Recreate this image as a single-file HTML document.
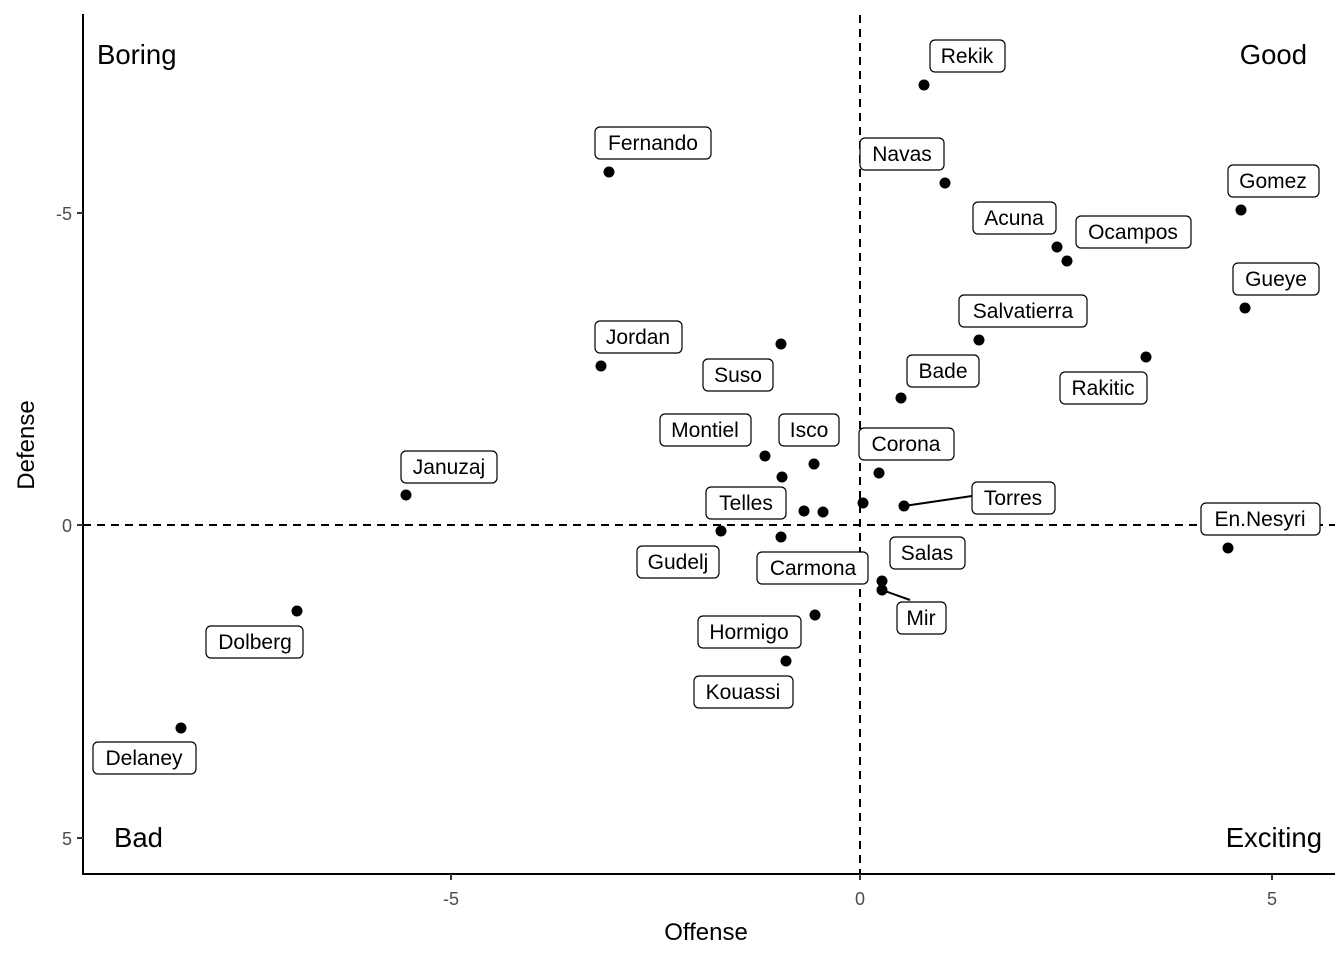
<!DOCTYPE html>
<html><head><meta charset="utf-8"><style>body{margin:0;background:#fff}svg{display:block}</style></head><body>
<svg width="1344" height="960" xmlns="http://www.w3.org/2000/svg" font-family="Liberation Sans, Arial, sans-serif">
<rect width="1344" height="960" fill="#fff"/>
<line x1="860" y1="15" x2="860" y2="874" stroke="#000" stroke-width="2" stroke-dasharray="8,6"/>
<line x1="83" y1="525" x2="1335" y2="525" stroke="#000" stroke-width="2" stroke-dasharray="8,6"/>
<line x1="83" y1="14" x2="83" y2="875" stroke="#000" stroke-width="2"/>
<line x1="82" y1="874" x2="1335" y2="874" stroke="#000" stroke-width="2"/>
<g stroke="#333" stroke-width="2">
<line x1="77" y1="213" x2="83" y2="213"/><line x1="77" y1="525" x2="83" y2="525"/><line x1="77" y1="838" x2="83" y2="838"/>
<line x1="451" y1="874" x2="451" y2="880"/><line x1="860" y1="874" x2="860" y2="880"/><line x1="1272" y1="874" x2="1272" y2="880"/>
</g>
<g fill="#4d4d4d" font-size="18">
<text x="72" y="220" text-anchor="end">-5</text><text x="72" y="532" text-anchor="end">0</text><text x="72" y="845" text-anchor="end">5</text>
<text x="451" y="905" text-anchor="middle">-5</text><text x="860" y="905" text-anchor="middle">0</text><text x="1272" y="905" text-anchor="middle">5</text>
</g>
<text x="706" y="940" font-size="24" text-anchor="middle">Offense</text>
<text transform="translate(34,445) rotate(-90)" font-size="24" text-anchor="middle">Defense</text>
<g font-size="27.5">
<text x="97" y="64">Boring</text><text x="1307" y="64" text-anchor="end">Good</text>
<text x="114" y="847">Bad</text><text x="1322" y="847" text-anchor="end">Exciting</text>
</g>
<g stroke="#000" stroke-width="2"><line x1="904" y1="506" x2="972" y2="496"/><line x1="882" y1="590" x2="910" y2="600"/></g>
<g fill="#000">
<circle cx="924" cy="85" r="5.5"/><circle cx="609" cy="172" r="5.5"/><circle cx="945" cy="183" r="5.5"/><circle cx="1241" cy="210" r="5.5"/>
<circle cx="1057" cy="247" r="5.5"/><circle cx="1067" cy="261" r="5.5"/><circle cx="1245" cy="308" r="5.5"/><circle cx="979" cy="340" r="5.5"/>
<circle cx="601" cy="366" r="5.5"/><circle cx="781" cy="344" r="5.5"/><circle cx="1146" cy="357" r="5.5"/><circle cx="901" cy="398" r="5.5"/>
<circle cx="765" cy="456" r="5.5"/><circle cx="814" cy="464" r="5.5"/><circle cx="782" cy="477" r="5.5"/><circle cx="879" cy="473" r="5.5"/>
<circle cx="863" cy="503" r="5.5"/><circle cx="904" cy="506" r="5.5"/><circle cx="804" cy="511" r="5.5"/><circle cx="823" cy="512" r="5.5"/>
<circle cx="406" cy="495" r="5.5"/><circle cx="721" cy="531" r="5.5"/><circle cx="781" cy="537" r="5.5"/><circle cx="1228" cy="548" r="5.5"/>
<circle cx="882" cy="581" r="5.5"/><circle cx="882" cy="590" r="5.5"/><circle cx="815" cy="615" r="5.5"/><circle cx="786" cy="661" r="5.5"/>
<circle cx="297" cy="611" r="5.5"/><circle cx="181" cy="728" r="5.5"/>
</g>
<g font-size="21" text-anchor="middle">
<g fill="#fff" stroke="#000" stroke-width="1.2">
<rect x="930" y="40" width="75" height="32" rx="5"/>
<rect x="595" y="127" width="116" height="32" rx="5"/>
<rect x="860" y="138" width="84" height="32" rx="5"/>
<rect x="1228" y="165" width="91" height="32" rx="5"/>
<rect x="973" y="202" width="83" height="32" rx="5"/>
<rect x="1076" y="216" width="115" height="32" rx="5"/>
<rect x="1233" y="263" width="86" height="32" rx="5"/>
<rect x="959" y="295" width="128" height="32" rx="5"/>
<rect x="595" y="321" width="87" height="32" rx="5"/>
<rect x="703" y="359" width="70" height="32" rx="5"/>
<rect x="907" y="355" width="72" height="32" rx="5"/>
<rect x="1060" y="372" width="87" height="32" rx="5"/>
<rect x="660" y="414" width="91" height="32" rx="5"/>
<rect x="779" y="414" width="60" height="32" rx="5"/>
<rect x="859" y="428" width="95" height="32" rx="5"/>
<rect x="401" y="451" width="96" height="32" rx="5"/>
<rect x="972" y="482" width="83" height="32" rx="5"/>
<rect x="706" y="487" width="80" height="32" rx="5"/>
<rect x="1201" y="503" width="119" height="32" rx="5"/>
<rect x="637" y="546" width="82" height="32" rx="5"/>
<rect x="890" y="537" width="75" height="32" rx="5"/>
<rect x="757" y="552" width="111" height="32" rx="5"/>
<rect x="897" y="602" width="49" height="32" rx="5"/>
<rect x="698" y="616" width="103" height="32" rx="5"/>
<rect x="206" y="626" width="97" height="32" rx="5"/>
<rect x="694" y="676" width="99" height="32" rx="5"/>
<rect x="93" y="742" width="103" height="32" rx="5"/>
</g>
<text x="967" y="63">Rekik</text><text x="653" y="150">Fernando</text><text x="902" y="161">Navas</text>
<text x="1273" y="188">Gomez</text><text x="1014" y="225">Acuna</text><text x="1133" y="239">Ocampos</text>
<text x="1276" y="286">Gueye</text><text x="1023" y="318">Salvatierra</text><text x="638" y="344">Jordan</text>
<text x="738" y="382">Suso</text><text x="943" y="378">Bade</text><text x="1103" y="395">Rakitic</text>
<text x="705" y="437">Montiel</text><text x="809" y="437">Isco</text><text x="906" y="451">Corona</text>
<text x="449" y="474">Januzaj</text><text x="1013" y="505">Torres</text><text x="746" y="510">Telles</text>
<text x="1260" y="526">En.Nesyri</text><text x="678" y="569">Gudelj</text><text x="927" y="560">Salas</text>
<text x="813" y="575">Carmona</text><text x="921" y="625">Mir</text><text x="749" y="639">Hormigo</text>
<text x="255" y="649">Dolberg</text><text x="743" y="699">Kouassi</text><text x="144" y="765">Delaney</text>
</g>
</svg>
</body></html>
